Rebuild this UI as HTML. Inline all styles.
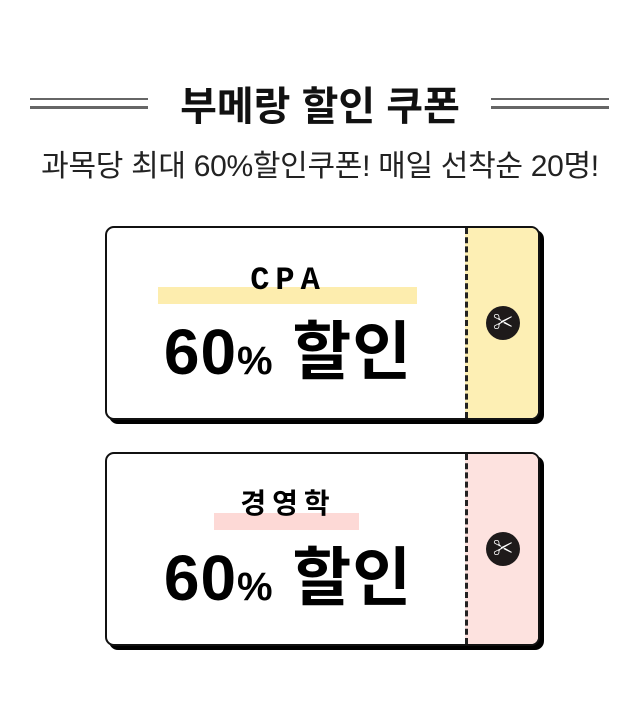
<!DOCTYPE html>
<html><head><meta charset="utf-8"><style>
body{margin:0;width:640px;height:723px;background:#fff;position:relative;overflow:hidden;font-family:"Liberation Sans","Noto Sans CJK KR",sans-serif}
.abs{position:absolute}
.line{position:absolute;height:3px;background:#666}
.coupon{position:absolute;left:105px;width:431px;height:190px;border:2px solid #111;border-radius:9px;background:#fff;box-shadow:4px 4px 0 #000;overflow:hidden}
.stub{position:absolute;right:0;top:0;bottom:0;width:70px;border-left:3px dashed #222}
.sc{position:absolute;left:18px;top:78px;width:34px;height:34px;border-radius:50%;background:#1e1a1a;color:#fff;font-size:20px;line-height:34px;text-align:center}
.hl{position:absolute;height:17px}
.lab{position:absolute;left:0;width:362px;text-align:center;font-weight:bold;font-size:32px;letter-spacing:6px}
.big{position:absolute;left:0;width:362px;text-align:center;font-weight:bold;font-size:64px;color:#000;letter-spacing:1px}
.big small{font-size:40px}
</style></head><body>
<div class="line" style="left:30px;top:98px;width:118px;height:2px"></div>
<div class="line" style="left:30px;top:106px;width:118px"></div>
<div class="line" style="left:491px;top:98px;width:118px;height:2px"></div>
<div class="line" style="left:491px;top:106px;width:118px"></div>
<div class="abs" style="left:0;width:640px;top:74px;text-align:center;font-size:40px;font-weight:bold;color:#111">부메랑 할인 쿠폰</div>
<div class="abs" style="left:0;width:640px;top:141px;text-align:center;font-size:30px;color:#222;letter-spacing:-0.3px">과목당 최대 60%할인쿠폰! 매일 선착순 20명!</div>

<div class="coupon" style="top:226px">
 <div class="hl" style="left:51px;top:59px;width:259px;background:#fdedae"></div>
 <div class="lab" style="top:34px;font-family:'Liberation Mono',monospace">CPA</div>
 <div class="big" style="top:73px">60<small>%</small> 할인</div>
 <div class="stub" style="background:#fdefb4"><div class="sc">✂</div></div>
</div>

<div class="coupon" style="top:452px">
 <div class="hl" style="left:107px;top:59px;width:145px;background:#fdd9d6"></div>
 <div class="lab" style="top:28px;font-size:28px">경영학</div>
 <div class="big" style="top:73px">60<small>%</small> 할인</div>
 <div class="stub" style="background:#fde2df"><div class="sc">✂</div></div>
</div>
</body></html>
